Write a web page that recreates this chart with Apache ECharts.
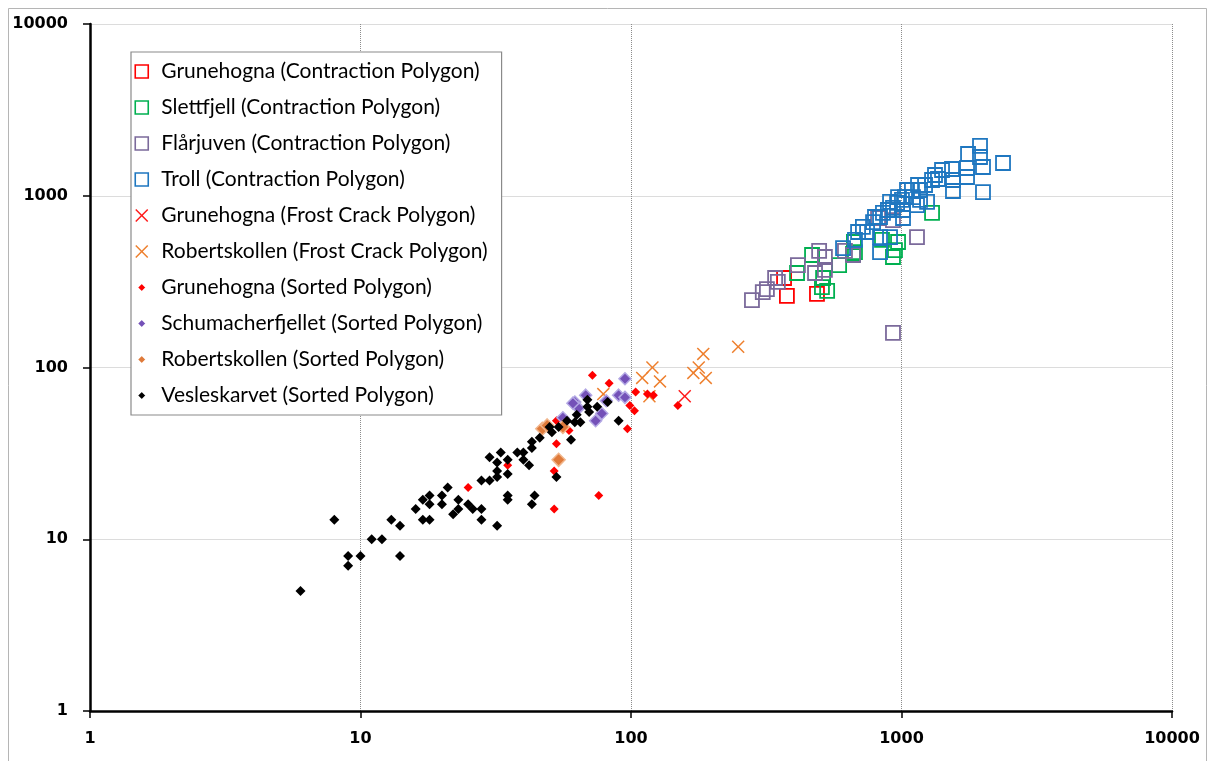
<!DOCTYPE html>
<html>
<head>
<meta charset="utf-8">
<title>Polygon size scatter (log-log)</title>
<script src="https://cdn.jsdelivr.net/npm/echarts@6/dist/echarts.min.js"></script>
<style>
  html, body { margin: 0; padding: 0; background: #fff; }
  #chart { width: 1209px; height: 761px; }
</style>
</head>
<body>
<div id="chart"></div>
<script>
// Axis range (both axes logarithmic)
const axisMin = 1;
const axisMax = 10000;

// Contraction polygons [x, y]
const grunehognaContraction = [[368, 332], [377, 261], [487, 268]];
const slettfjellContraction = [
  [411, 355], [467, 452], [513, 332], [531, 279], [508, 294], [588, 395], [662, 458],
  [667, 538], [847, 553], [971, 538], [930, 440], [946, 483], [1297, 794], [673, 470]
];
const flarjuvenContraction = [
  [280, 247], [307, 275], [318, 286], [341, 332], [349, 315], [414, 395], [479, 355],
  [496, 477], [521, 440], [521, 370], [618, 477], [662, 452], [819, 742], [930, 722],
  [1141, 575], [930, 159]
];
const trollContraction = [
  [1951, 1949], [1762, 1750], [1951, 1681], [2373, 1551], [2001, 1470], [1747, 1451],
  [1747, 1286], [1537, 1431], [1412, 1412], [1550, 1235], [1550, 1066], [1364, 1252],
  [1330, 1321], [1297, 1235], [2001, 1051], [1222, 1155], [1151, 1155], [1171, 1080],
  [1093, 1080], [1048, 1080], [1103, 983], [1171, 945], [1243, 920], [1141, 883],
  [1030, 983], [1004, 945], [971, 983], [963, 908], [907, 920], [930, 849], [1013, 826],
  [891, 826], [854, 794], [833, 752], [1013, 742], [798, 752], [785, 703], [720, 658],
  [746, 615], [691, 615], [833, 575], [907, 575], [833, 470], [673, 553], [608, 496]
];

// Frost crack polygons
const grunehognaFrost = [[158, 68]];
const robertskollenFrost = [
  [120, 100], [110, 87], [128, 83], [170, 93], [178, 100], [189, 87], [185, 120],
  [249, 132], [79, 70], [117, 68]
];

// Sorted polygons
const grunehognaSorted = [
  [25, 20], [35, 27], [72, 90], [83, 81], [53, 49], [59, 43], [53, 36], [52, 25],
  [52, 15], [76, 18], [97, 44], [99, 60], [103, 56], [104, 72], [115, 70], [121, 69],
  [149, 60]
];
const schumacherSorted = [
  [95, 86], [90, 69], [95, 67], [68, 69], [62, 63], [64, 58], [74, 49], [78, 54],
  [56, 51], [81, 64], [61, 62]
];
const robertskollenSorted = [[47, 44], [49, 46], [54, 29], [56, 45]];
const vesleskarvetSorted = [
  [6, 5], [8, 13], [9, 8], [9, 7], [10, 8], [11, 10], [12, 10], [13, 13], [14, 12],
  [14, 8], [16, 15], [17, 17], [18, 18], [18, 16], [17, 13], [18, 13], [20, 18],
  [20, 16], [21, 20], [23, 17], [23, 15], [22, 14], [25, 16], [26, 15], [28, 15],
  [28, 13], [32, 12], [28, 22], [30, 22], [30, 30], [32, 28], [32, 25], [32, 23],
  [33, 32], [35, 29], [35, 24], [35, 18], [35, 17], [38, 32], [40, 32], [40, 29],
  [42, 27], [43, 37], [43, 34], [46, 39], [50, 45], [51, 42], [54, 45], [58, 49],
  [63, 53], [62, 48], [65, 48], [69, 65], [69, 59], [70, 55], [75, 59], [82, 63],
  [90, 49], [44, 18], [43, 16], [53, 23], [60, 38]
];

// Filled cross outline used for the frost crack markers
const crossPath = 'path://M0,0.8 L0.8,0 L5,4.2 L9.2,0 L10,0.8 L5.8,5 L10,9.2 L9.2,10 L5,5.8 L0.8,10 L0,9.2 L4.2,5 Z';

function hollowSquare(name, data, color) {
  return {
    name, type: 'scatter', data, symbol: 'rect', symbolSize: 14,
    itemStyle: { color: 'rgba(0,0,0,0)', borderColor: color, borderWidth: 1.8, opacity: 1 }
  };
}
function cross(name, data, color) {
  return {
    name, type: 'scatter', data, symbol: crossPath, symbolSize: 13,
    itemStyle: { color, opacity: 1 }
  };
}
function diamond(name, data, color, size, halo) {
  return {
    name, type: 'scatter', data, symbol: 'diamond', symbolSize: size,
    itemStyle: halo
      ? { color, borderColor: halo, borderWidth: 1.5, opacity: 1 }
      : { color, opacity: 1 }
  };
}

const series = [
  hollowSquare('Grunehogna (Contraction Polygon)', grunehognaContraction, '#ff0000'),
  hollowSquare('Slettfjell (Contraction Polygon)', slettfjellContraction, '#00b050'),
  hollowSquare('Flårjuven (Contraction Polygon)', flarjuvenContraction, '#7b6a9b'),
  hollowSquare('Troll (Contraction Polygon)', trollContraction, '#1f77c0'),
  cross('Grunehogna (Frost Crack Polygon)', grunehognaFrost, '#ff1a1a'),
  cross('Robertskollen (Frost Crack Polygon)', robertskollenFrost, '#ee7f2d'),
  diamond('Grunehogna (Sorted Polygon)', grunehognaSorted, '#ff0000', 9),
  diamond('Schumacherfjellet (Sorted Polygon)', schumacherSorted, '#7451b8', 12, '#b3a8e4'),
  diamond('Robertskollen (Sorted Polygon)', robertskollenSorted, '#df7a3a', 13, '#f1b68c'),
  diamond('Vesleskarvet (Sorted Polygon)', vesleskarvetSorted, '#000000', 10)
];

// Legend entries: hollow squares keep their outline, diamonds are shrunk with a white rim
const legendData = series.map(s => {
  const entry = { name: s.name, icon: s.symbol };
  if (s.symbol === 'rect') {
    entry.itemStyle = { color: 'rgba(0,0,0,0)', borderColor: s.itemStyle.borderColor, borderWidth: 1.6 };
  } else if (s.symbol === 'diamond') {
    entry.itemStyle = { color: s.itemStyle.color, borderColor: '#ffffff', borderWidth: 4.5 };
  } else {
    entry.itemStyle = { color: s.itemStyle.color, borderWidth: 0 };
  }
  return entry;
});

const axisLabelStyle = {
  color: '#000', fontWeight: 'bold', fontSize: 16, fontFamily: 'DejaVu Sans',
  formatter: v => String(Math.round(v))
};

const chart = echarts.init(document.getElementById('chart'), null, { renderer: 'canvas' });
chart.setOption({
  animation: false,
  backgroundColor: '#ffffff',
  graphic: [{
    type: 'rect', left: 6, top: 6, z: -10, silent: true,
    shape: { width: 1198, height: 770 },
    style: { fill: 'none', stroke: '#b5b5b5', lineWidth: 1 }
  }],
  grid: { left: 90, right: 37, top: 24, bottom: 50 },
  xAxis: {
    type: 'log', logBase: 10, min: axisMin, max: axisMax,
    axisLine: { lineStyle: { color: '#000', width: 2.5 } },
    axisTick: { show: true, length: 7, lineStyle: { color: '#000', width: 1.5 } },
    axisLabel: Object.assign({ margin: 20 }, axisLabelStyle),
    splitLine: { show: true, lineStyle: { type: 'dotted', color: '#8c8c8c', width: 1 } }
  },
  yAxis: {
    type: 'log', logBase: 10, min: axisMin, max: axisMax,
    axisLine: { lineStyle: { color: '#000', width: 2.5 } },
    axisTick: { show: true, length: 7, lineStyle: { color: '#000', width: 1.5 } },
    axisLabel: Object.assign({ margin: 22 }, axisLabelStyle),
    splitLine: { show: true, lineStyle: { type: 'solid', color: '#dcdcdc', width: 1 } }
  },
  legend: {
    orient: 'vertical', left: 131, top: 52,
    padding: [9, 14, 9, 2],
    itemWidth: 13, itemHeight: 13, itemGap: 15,
    backgroundColor: '#ffffff', borderColor: '#8a8a8a', borderWidth: 1.2,
    textStyle: { fontFamily: 'Lato', fontSize: 21, color: '#000', lineHeight: 21, padding: [0, 0, 0, 8] },
    data: legendData
  },
  series
});
</script>
</body>
</html>
